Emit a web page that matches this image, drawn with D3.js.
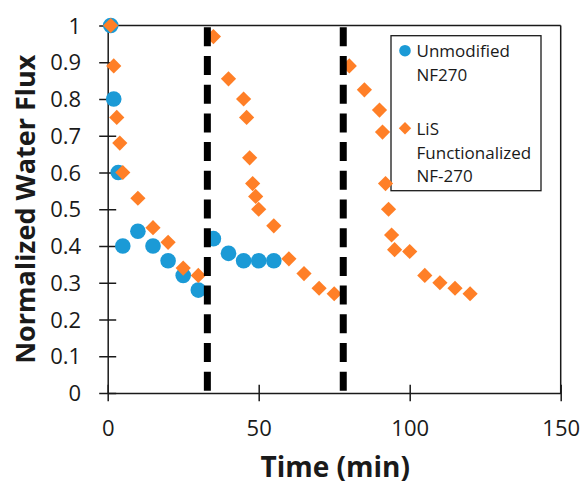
<!DOCTYPE html>
<html>
<head>
<meta charset="utf-8">
<script src="https://cdn.jsdelivr.net/npm/d3@7"></script>
<style>
  html, body { margin: 0; padding: 0; background: #fff; }
  svg { display: block; font-family: "Open Sans", sans-serif; }
</style>
</head>
<body>
<svg id="chart" width="583" height="484"></svg>
<script>
// Normalized water flux over three filtration cycles
const unmodTime = [1, 2, 3.5, 5, 10, 15, 20, 25, 30, 35, 40, 45, 50, 55];
const unmodFlux = [1.0, 0.8, 0.6, 0.4, 0.44, 0.4, 0.36, 0.32, 0.28, 0.42, 0.38, 0.36, 0.36, 0.36];

const lisTime = [1, 2, 3, 4, 5, 10, 15, 20, 25, 30,
                 35, 40, 45, 46, 47, 48, 49, 50, 55, 60, 65, 70, 75,
                 80, 85, 90, 91, 92, 93, 94, 95, 100, 105, 110, 115, 120];
const lisFlux = [1.0, 0.89, 0.75, 0.68, 0.6, 0.53, 0.45, 0.41, 0.34, 0.32,
                 0.97, 0.855, 0.8, 0.75, 0.64, 0.57, 0.535, 0.5, 0.455, 0.365, 0.325, 0.285, 0.27,
                 0.89, 0.825, 0.77, 0.71, 0.57, 0.5, 0.43, 0.39, 0.385, 0.32, 0.3, 0.285, 0.27];

// Cleaning steps between cycles
const cycleBreaks = [33, 78];

const xTicks = [0, 50, 100, 150];
const xTickLabels = ["0", "50", "100", "150"];
const yTicks = [0, 0.1, 0.2, 0.3, 0.4, 0.5, 0.6, 0.7, 0.8, 0.9, 1];
const yTickLabels = ["0", "0.1", "0.2", "0.3", "0.4", "0.5", "0.6", "0.7", "0.8", "0.9", "1"];

const seriesNames = [["Unmodified", "NF270"], ["LiS", "Functionalized", "NF-270"]];
const xTitle = "Time (min)";
const yTitle = "Normalized Water Flux";

const BLUE = "#1b9ad6";
const ORANGE = "#ff7f27";
const INK = "#1a1a1a";

const svg = d3.select("#chart");

const x = d3.scaleLinear().domain([0, 150]).range([107.7, 560.7]);
const y = d3.scaleLinear().domain([0, 1]).range([393, 25.5]);

// ---- axes and frame ----
const axisG = svg.append("g");

const yAxis = axisG.append("g")
  .attr("transform", `translate(${x(0)},0)`)
  .call(d3.axisLeft(y).tickValues(yTicks).tickSizeOuter(0)
        .tickFormat((d, i) => yTickLabels[i]));
yAxis.select(".domain").attr("stroke", INK).attr("stroke-width", 1.5);
yAxis.selectAll(".tick line").attr("x1", -8.5).attr("x2", 8.5)
  .attr("stroke", INK).attr("stroke-width", 1.5);
yAxis.selectAll(".tick text").attr("x", -26.5).attr("dy", "0.35em")
  .attr("fill", INK).style("font-size", "22px").style("font-family", "'Open Sans', sans-serif");

const xAxis = axisG.append("g")
  .attr("transform", `translate(0,${y(0)})`)
  .call(d3.axisBottom(x).tickValues(xTicks).tickSizeOuter(0)
        .tickFormat((d, i) => xTickLabels[i]));
xAxis.select(".domain").attr("stroke", INK).attr("stroke-width", 1.5);
xAxis.selectAll(".tick line").attr("y1", -8.3).attr("y2", 8.3)
  .attr("stroke", INK).attr("stroke-width", 1.5);
xAxis.selectAll(".tick text").attr("y", 42.5).attr("dy", 0)
  .attr("fill", INK).style("font-size", "22px").style("font-family", "'Open Sans', sans-serif");

// top and right edges of the plot box
axisG.append("line")
  .attr("x1", x(0)).attr("x2", x(150)).attr("y1", y(1)).attr("y2", y(1))
  .attr("stroke", INK).attr("stroke-width", 1.5);
axisG.append("line")
  .attr("x1", x(150)).attr("x2", x(150)).attr("y1", y(1)).attr("y2", y(0))
  .attr("stroke", INK).attr("stroke-width", 1.5);

// ---- axis titles ----
svg.append("text")
  .attr("x", (x(0) + x(150)) / 2 + 1)
  .attr("y", 477)
  .attr("text-anchor", "middle")
  .attr("fill", INK)
  .style("font-size", "28px").style("font-weight", "bold")
  .text(xTitle);

svg.append("text")
  .attr("transform", `translate(35,${(y(0) + y(1)) / 2}) rotate(-90)`)
  .attr("text-anchor", "middle")
  .attr("fill", INK)
  .style("font-size", "27px").style("font-weight", "bold")
  .text(yTitle);

// ---- legend ----
const legend = svg.append("g");
legend.append("rect")
  .attr("x", 391).attr("y", 35.7).attr("width", 150).attr("height", 155)
  .attr("fill", "#fff").attr("stroke", INK).attr("stroke-width", 1.3);

const diamond = (half) => `M0,${-half}L${half},0L0,${half}L${-half},0Z`;

legend.append("circle").attr("cx", 405).attr("cy", 50.7).attr("r", 5.8).attr("fill", BLUE);
legend.append("path").attr("d", diamond(6.2)).attr("transform", "translate(405,128.3)").attr("fill", ORANGE);

const legendBaselines = [[57.3, 80.7], [135, 158.5, 182.3]];
seriesNames.forEach((lines, si) => {
  lines.forEach((txt, li) => {
    legend.append("text")
      .attr("x", 416.5).attr("y", legendBaselines[si][li])
      .attr("fill", INK)
      .style("font-size", "17px")
      .text(txt);
  });
});

// ---- data markers ----
const unmod = unmodTime.map((t, i) => ({ t, v: unmodFlux[i] }));
const lis = lisTime.map((t, i) => ({ t, v: lisFlux[i] }));

svg.append("g").selectAll("circle").data(unmod).join("circle")
  .attr("cx", d => x(d.t)).attr("cy", d => y(d.v)).attr("r", 7.8)
  .attr("fill", BLUE);

svg.append("g").selectAll("path").data(lis).join("path")
  .attr("d", diamond(7.6))
  .attr("transform", d => `translate(${x(d.t)},${y(d.v)})`)
  .attr("fill", ORANGE);

// ---- dashed cycle separators ----
svg.append("g").selectAll("line").data(cycleBreaks).join("line")
  .attr("x1", d => x(d)).attr("x2", d => x(d))
  .attr("y1", y(1) + 1.8).attr("y2", y(0))
  .attr("stroke", "#000").attr("stroke-width", 7)
  .attr("stroke-dasharray", "19 9.7");
</script>
</body>
</html>
